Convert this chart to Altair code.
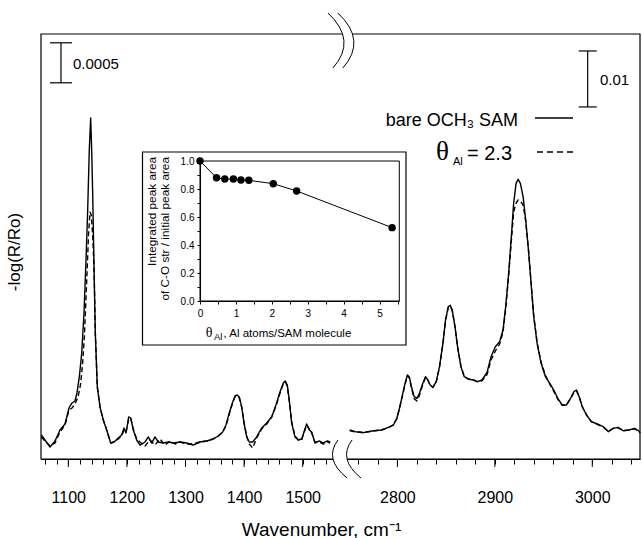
import altair as alt
import pandas as pd

FONT = "Liberation Sans"

# ---------------- IR spectra ----------------
# 1050-1550 cm-1 window: (wavenumber, -log(R/Ro) in units of 1e-4)
lo_bare = [
    (1054, 0.88), (1060.2, 0.25), (1068.8, -0.63), (1077.3, 0.13), (1085.8, 1.5),
    (1094.4, 2.25), (1101.2, 4.25), (1106.3, 4.88), (1111.4, 5.13), (1114.8, 6.13),
    (1118.8, 8.13), (1122.9, 11.13), (1126.8, 16.13), (1130.2, 22.75), (1133.1, 29.0),
    (1135.8, 36.5), (1138.2, 40.5), (1139.9, 36.5), (1141.6, 31.13), (1143.9, 21.88),
    (1146.1, 13.63), (1149.5, 6.88), (1154.1, 4.38), (1159.7, 2.75), (1165.5, 1.5),
    (1172.4, -0.13), (1178.0, 0.0), (1185.3, 0.5), (1191.1, 0.88), (1195.1, 1.75),
    (1198.5, 1.13), (1203.1, 3.13), (1206.5, 3.0), (1210.9, 1.5), (1216.7, 0.25),
    (1222.4, -0.38), (1230.9, 0.0), (1236.5, 0.63), (1242.3, -0.13), (1248.0, 0.63),
    (1253.6, 0.0), (1262.1, -0.13), (1270.7, 0.0), (1279.2, -0.13), (1290.6, 0.0),
    (1302.1, -0.13), (1313.3, -0.38), (1324.7, 0.0), (1336.2, 0.13), (1347.4, 0.38),
    (1356.0, 0.75), (1363.5, 1.25), (1369.1, 2.13), (1374.7, 3.63), (1380.5, 5.0),
    (1384.5, 5.75), (1388.4, 5.88), (1391.8, 5.63), (1395.9, 4.38), (1399.8, 2.38),
    (1404.4, 0.63), (1408.9, 0.0), (1414.7, 0.0), (1421.5, 0.63), (1430.0, 1.75),
    (1438.6, 2.38), (1447.1, 3.13), (1454.4, 4.63), (1461.3, 6.25), (1466.9, 7.38),
    (1470.3, 7.63), (1473.7, 7.13), (1477.1, 5.25), (1481.2, 2.38), (1486.9, 0.63),
    (1492.5, 0.25), (1498.3, 0.38), (1502.2, 1.25), (1506.8, 2.25), (1511.3, 1.5),
    (1515.4, 1.25), (1521.0, -0.13), (1528.3, 0.13), (1535.2, -0.13), (1542.0, 0.13),
    (1547, 0.0),
]
lo_al = [
    (1054, 0.63), (1060.2, 0.13), (1068.8, -0.5), (1077.3, -0.13), (1085.8, 1.25),
    (1094.4, 2.13), (1101.2, 4.0), (1106.3, 4.25), (1111.4, 4.75), (1116.6, 5.63),
    (1120.8, 7.13), (1124.2, 9.63), (1127.6, 13.38), (1131.1, 19.63), (1134.5, 25.88),
    (1137.0, 28.75), (1139.2, 28.38), (1141.6, 25.88), (1143.9, 21.88), (1146.1, 13.63),
    (1149.5, 6.88), (1154.1, 4.38), (1159.7, 2.75), (1165.5, 1.5), (1172.4, -0.13),
    (1178.0, 0.0), (1185.3, 0.38), (1191.1, 0.75), (1195.1, 1.5), (1198.5, 1.25),
    (1203.1, 2.88), (1206.5, 3.0), (1210.9, 1.63), (1216.7, 0.38), (1222.4, 0.0),
    (1230.9, -0.5), (1239.4, 0.25), (1248.0, -0.38), (1256.5, 0.38), (1265.0, -0.38),
    (1273.6, 0.13), (1282.1, -0.25), (1290.6, 0.0), (1302.1, -0.25), (1313.3, -0.25),
    (1324.7, 0.0), (1336.2, 0.13), (1347.4, 0.38), (1356.0, 0.75), (1363.5, 1.25),
    (1369.1, 2.0), (1374.7, 3.5), (1380.5, 4.88), (1384.5, 5.63), (1388.4, 5.75),
    (1391.8, 5.5), (1395.9, 4.38), (1399.8, 2.5), (1404.4, 0.75), (1408.9, -0.25),
    (1414.7, -0.75), (1421.5, 0.5), (1430.0, 1.63), (1438.6, 2.25), (1447.1, 3.13),
    (1454.4, 4.5), (1461.3, 6.13), (1466.9, 7.25), (1470.3, 7.5), (1473.7, 7.0),
    (1477.1, 5.13), (1481.2, 2.5), (1486.9, 0.75), (1492.5, 0.25), (1498.3, 0.25),
    (1502.2, 1.13), (1506.8, 2.13), (1511.3, 1.63), (1515.4, 1.13), (1521.0, 0.0),
    (1528.3, 0.0), (1535.2, -0.25), (1542.0, 0.0), (1547, -0.13),
]

# 2750-3050 cm-1 window: -log(R/Ro) in units of 1e-3
hi_wn = [
    2751, 2756.5, 2765.0, 2775.3, 2784.0, 2790.7, 2795.9, 2799.4, 2802.1, 2804.8,
    2807.9, 2810.3, 2812.3, 2814.8, 2817.2, 2820.0, 2822.6, 2826.1, 2828.8, 2831.3,
    2833.6, 2836.4, 2839.8, 2843.2, 2846.7, 2849.4, 2852.2, 2854.2, 2856.3, 2859.1,
    2861.7, 2865.2, 2868.6, 2873.0, 2878.2, 2882.3, 2886.8, 2892.0, 2896.1, 2900.5,
    2904.9, 2908.4, 2911.1, 2913.9, 2916.7, 2919.3, 2921.8, 2923.9, 2926.2, 2929.0,
    2931.7, 2934.5, 2937.2, 2939.9, 2943.4, 2947.5, 2952.0, 2956.4, 2960.5, 2964.6,
    2969.1, 2973.6, 2977.7, 2981.1, 2983.8, 2986.6, 2989.7, 2994.1, 2999.0, 3005.1,
    3011.3, 3016.5, 3021.6, 3026.3, 3031.9, 3037.7, 3043.5, 3047.9, 3049,
]
hi_bare = [
    0.0, -0.30, -0.48, -0.13, 0.0, 0.48, 0.89, 2.09, 3.88, 5.95,
    8.34, 9.82, 9.41, 7.45, 5.95, 5.66, 6.55, 8.34, 9.52, 8.93,
    8.04, 7.63, 8.63, 11.31, 15.48, 19.65, 22.02, 22.27, 21.43, 18.45,
    14.88, 11.31, 9.52, 9.06, 8.93, 8.63, 8.93, 10.27, 13.09, 14.88,
    15.77, 17.86, 22.02, 27.38, 33.93, 40.49, 44.06, 44.78, 44.06, 41.67,
    37.51, 32.15, 26.20, 20.24, 15.48, 11.91, 9.52, 8.34, 7.14, 5.66,
    4.47, 4.47, 5.66, 6.84, 7.14, 5.95, 4.16, 2.68, 1.48, 1.07,
    0.59, -0.30, 0.30, 0.48, -0.13, 0.0, 0.30, -0.18, -0.54,
]
hi_al = [
    -0.1, -0.35, -0.4, -0.2, 0.05, 0.4, 0.95, 2.0, 3.8, 5.8,
    8.2, 9.7, 9.3, 7.2, 5.6, 5.18, 6.2, 8.1, 9.4, 8.9,
    8.0, 7.6, 8.5, 11.2, 15.3, 19.5, 21.9, 22.1, 21.3, 18.4,
    14.9, 11.4, 9.6, 9.1, 8.9, 8.6, 8.8, 9.9, 12.5, 14.11,
    15.36, 17.5, 21.6, 26.97, 33.22, 38.93, 40.54, 41.08, 40.90, 40.19,
    37.3, 32.3, 26.4, 20.5, 15.6, 12.1, 9.7, 8.2, 6.9, 5.5,
    4.4, 4.5, 5.6, 6.7, 7.0, 5.9, 4.2, 2.7, 1.5, 1.0,
    0.5, -0.2, 0.3, 0.4, -0.1, 0.0, 0.2, -0.2, -0.5,
]

# ---------------- inset: C-O stretch peak area vs Al coverage ----------------
theta_al = [0.0, 0.46, 0.69, 0.93, 1.14, 1.36, 2.04, 2.69, 5.35]
area_ratio = [1.0, 0.88, 0.871, 0.871, 0.864, 0.862, 0.838, 0.786, 0.524]

# ---------------- axis ticks ----------------
major_ticks = [1100, 1200, 1300, 1400, 1500, 2800, 2900, 3000]
minor_ticks = list(range(1060, 1541, 20)) + list(range(2760, 3041, 20))
inset_x_ticks = [0, 0.5, 1, 1.5, 2, 2.5, 3, 3.5, 4, 4.5, 5, 5.5]
inset_y_ticks = [0, 0.1, 0.2, 0.3, 0.4, 0.5, 0.6, 0.7, 0.8, 0.9, 1.0]

# scale bars: (wavenumber, bottom, top) in absorbance
bar_lo = (1087.5, 0.00449, 0.00499)   # 0.0005
bar_hi = (2995.3, 0.0577, 0.0677)     # 0.01

W, H = 599, 425

lo_bare_df = pd.DataFrame(lo_bare, columns=["wn", "v"]).assign(A=lambda d: d.v * 1e-4)
lo_al_df = pd.DataFrame(lo_al, columns=["wn", "v"]).assign(A=lambda d: d.v * 1e-4)
hi_bare_df = pd.DataFrame({"wn": hi_wn, "A": [v * 1e-3 for v in hi_bare]})
hi_al_df = pd.DataFrame({"wn": hi_wn, "A": [v * 1e-3 for v in hi_al]})
inset_df = pd.DataFrame({"theta": theta_al, "ratio": area_ratio})

# broken wavenumber axis: two linear pieces joined by a narrow gap
x_scale = alt.Scale(domain=[1053.4, 1548, 2750, 3049], range=[0, 289.8, 307.7, W],
                    zero=False, nice=False)
x_axis = alt.Axis(
    values=minor_ticks, format="d",
    labelExpr="datum.value % 100 === 0 ? datum.label : ''",
    tickSize=5, tickColor="black", tickWidth=1, domainColor="black", domainWidth=1.2,
    labelColor="black", labelFont=FONT, labelFontSize=16, labelPadding=25,
    labelOverlap=False, labelFlush=False, grid=False,
    title="Wavenumber, cm⁻¹", titleFont=FONT, titleFontSize=19, titleFontWeight="normal",
    titleColor="black", titleX=280, titleY=76, titleBaseline="alphabetic", zindex=0,
)
X = alt.X("wn:Q", scale=x_scale, axis=x_axis)
y_lo = alt.Scale(domain=[-2.125e-4, 5.1e-3], zero=False, nice=False)
y_hi = alt.Scale(domain=[-5.18e-3, 70.73e-3], zero=False, nice=False)

def spectrum(df, yscale, dashed):
    kw = dict(color="black", strokeWidth=1.4, strokeJoin="round")
    if dashed:
        kw["strokeDash"] = [5, 3]
    return alt.Chart(df).mark_line(**kw).encode(
        x=X, y=alt.Y("A:Q", scale=yscale, axis=None))

def scale_bar(bar, yscale, serif):
    wn, a0, a1 = bar
    rule = alt.Chart(pd.DataFrame({"wn": [wn], "A": [a0], "A2": [a1]})).mark_rule(
        color="black", strokeWidth=1.2).encode(
        x=X, y=alt.Y("A:Q", scale=yscale, axis=None), y2="A2:Q")
    ends = alt.Chart(pd.DataFrame({"wn": [wn, wn], "A": [a0, a1]})).mark_tick(
        orient="horizontal", size=serif, thickness=1.2, color="black", opacity=1).encode(
        x=X, y=alt.Y("A:Q", scale=yscale, axis=None))
    return rule + ends

major = alt.Chart(pd.DataFrame({"wn": major_ticks})).mark_rule(
    color="black", strokeWidth=1).encode(x=X, y=alt.value(H), y2=alt.value(H + 8))

lo_group = alt.layer(spectrum(lo_bare_df, y_lo, False), spectrum(lo_al_df, y_lo, True),
                     scale_bar(bar_lo, y_lo, 22), major)
hi_group = alt.layer(spectrum(hi_bare_df, y_hi, False), spectrum(hi_al_df, y_hi, True),
                     scale_bar(bar_hi, y_hi, 18))
main_group = alt.layer(lo_group, hi_group).resolve_scale(y="independent")

# ---------------- inset ----------------
one = pd.DataFrame({"k": [0]})
ix = alt.X("theta:Q", scale=alt.Scale(domain=[0, 5.55], range=[159, 358.3], zero=False, nice=False),
           axis=alt.Axis(orient="bottom", offset=-158, values=inset_x_ticks, format=".0f",
                         labelExpr="datum.value % 1 === 0 ? datum.label : ''",
                         tickSize=3, tickColor="black", domainColor="black",
                         labelColor="black", labelFont=FONT, labelFontSize=10, labelPadding=4,
                         labelOverlap=False, labelFlush=False, grid=False, title=None, zindex=1))
iy = alt.Y("ratio:Q", scale=alt.Scale(domain=[0, 1], range=[267, 127], zero=False, nice=False),
           axis=alt.Axis(orient="left", offset=-159, values=inset_y_ticks, format=".1f",
                         labelExpr="round(datum.value * 10) % 2 === 0 ? datum.label : ''",
                         tickSize=3, tickColor="black", domainColor="black",
                         labelColor="black", labelFont=FONT, labelFontSize=10, labelPadding=3,
                         labelOverlap=False, labelFlush=False, grid=False, title=None, zindex=1))
inset_box = alt.Chart(one).mark_rect(fill="white", stroke="black", strokeWidth=1.2).encode(
    x=alt.value(101.5), x2=alt.value(365), y=alt.value(118), y2=alt.value(311))
inset_frame = alt.Chart(one).mark_rect(fillOpacity=0, stroke="black", strokeWidth=1).encode(
    x=alt.value(159), x2=alt.value(358.3), y=alt.value(127), y2=alt.value(267))
inset_line = alt.Chart(inset_df).mark_line(color="black", strokeWidth=1).encode(x=ix, y=iy)
inset_pts = alt.Chart(inset_df).mark_circle(color="black", size=55, opacity=1).encode(x=ix, y=iy)

def label(text, x, y, size, font=FONT, align="left", baseline="alphabetic", angle=0):
    kw = dict(text=text, font=font, fontSize=size, align=align, baseline=baseline, color="black")
    if angle:
        kw["angle"] = angle
    return alt.Chart(one).mark_text(**kw).encode(x=alt.value(x), y=alt.value(y))

inset_group = alt.layer(
    inset_box, inset_frame, inset_line, inset_pts,
    label("Integrated peak area", 110.7, 123, 11.8, align="right", baseline="middle", angle=270),
    label("of C-O str / initial peak area", 124, 123, 11.8, align="right", baseline="middle", angle=270),
    label("θ", 164.7, 303, 14, font="Liberation Serif"),
    label("Al", 173, 306, 9.5),
    label(", Al atoms/SAM molecule", 182.5, 303, 11.5),
)

# ---------------- frame, legend, annotations ----------------
frame = alt.Chart(one).mark_rect(fillOpacity=0, stroke="black", strokeWidth=1.2).encode(
    x=alt.value(0), x2=alt.value(W), y=alt.value(0), y2=alt.value(H))

top_fill = "M -0.51 -1 Q 0.56 0 -0.33 1 L 0.03 1 Q 0.92 0 -0.15 -1 Z"
top_wave = "M -0.51 -1 Q 0.56 0 -0.33 1 M -0.15 -1 Q 0.92 0 0.03 1"
bot_fill = "M -0.37 -1 Q -1.13 0 0.11 1 L 0.84 1 Q -0.39 0 0.37 -1 Z"
bot_wave = "M -0.37 -1 Q -1.13 0 0.11 1 M 0.37 -1 Q -0.39 0 0.84 1"

def brk(path, x, y, size, filled):
    if filled:
        m = alt.Chart(one).mark_point(shape=path, size=size, filled=True, color="white",
                                      opacity=1, strokeWidth=0)
    else:
        m = alt.Chart(one).mark_point(shape=path, size=size, filled=False, color="black",
                                      opacity=1, strokeWidth=1)
    return m.encode(x=alt.value(x), y=alt.value(y))

legend_solid = alt.Chart(one).mark_rule(color="black", strokeWidth=1.3).encode(
    x=alt.value(494), x2=alt.value(532), y=alt.value(84))
legend_dash = alt.Chart(one).mark_rule(color="black", strokeWidth=1.4, strokeDash=[6, 4]).encode(
    x=alt.value(496), x2=alt.value(532), y=alt.value(118))

decor = alt.layer(
    frame,
    brk(top_fill, 301, 6.5, 3025, True), brk(top_wave, 301, 6.5, 3025, False),
    brk(bot_fill, 304, 425, 1444, True), brk(bot_wave, 304, 425, 1444, False),
    label("0.0005", 32, 30, 15, baseline="middle"),
    label("0.01", 559, 46, 15, baseline="middle"),
    label("bare OCH₃ SAM", 477, 92, 18, align="right"),
    legend_solid,
    label("θ", 395, 126, 27, font="Liberation Serif"),
    label("Al", 412, 131, 11),
    label("= 2.3", 426, 126, 20),
    legend_dash,
    label("-log(R/Ro)", -26, 218, 17, align="center", baseline="middle", angle=270),
)

chart = alt.layer(main_group, inset_group, decor).resolve_scale(
    x="independent", y="independent"
).properties(
    width=W, height=H,
    autosize=alt.AutoSizeParams(type="none"),
    padding={"left": 41, "top": 34, "right": 2, "bottom": 79},
    background="white",
).configure_view(strokeWidth=0)

chart.save("out.html", embed_options={"renderer": "svg", "actions": False})
